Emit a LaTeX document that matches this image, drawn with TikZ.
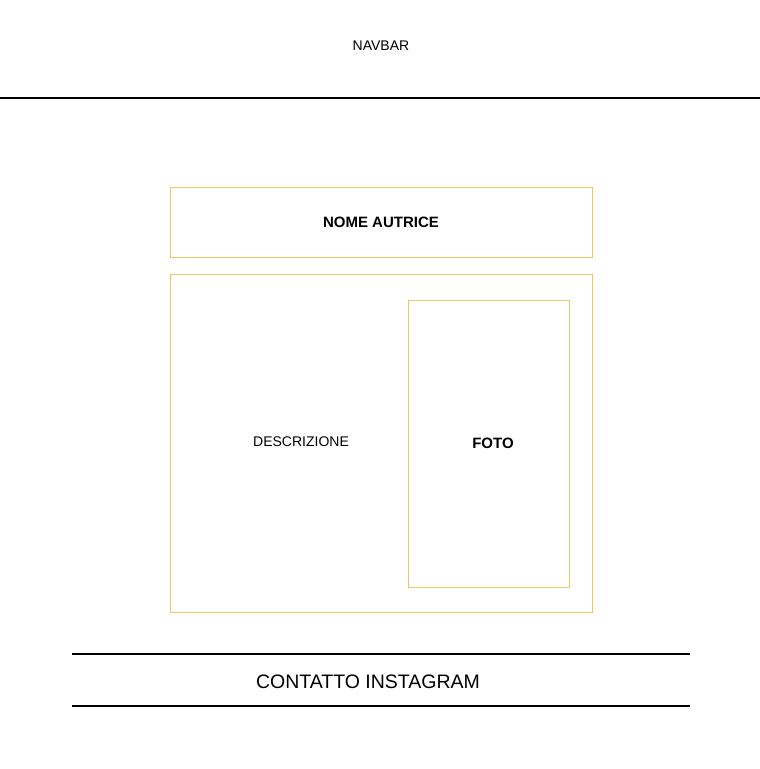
\documentclass[tikz,border=0pt]{standalone}
\usepackage{fontspec}
\setmainfont{Liberation Sans}
\usetikzlibrary{positioning}

\definecolor{wireGold}{RGB}{232,200,100}

\begin{document}
\begin{tikzpicture}[
  x=1pt, y=-1pt,
  box/.style={
    draw=wireGold,
    line width=0.9pt,
    inner sep=0pt,
    font=\fontsize{15}{18}\selectfont\bfseries
  },
  label/.style={
    inner sep=0pt,
    font=\fontsize{14}{17}\selectfont
  },
  rule/.style={line width=2pt}
]

\useasboundingbox (0,0) rectangle (760,769);

% Navbar
\node[label] (navbar) at (381,46) {NAVBAR};
\draw[rule] (0,98) -- (760,98);

% Nome autrice
\node[box, minimum width=422pt, minimum height=70pt] (nome) at (381,222) {NOME AUTRICE};

% Descrizione + foto
\node[box, minimum width=422pt, minimum height=338pt] (corpo) at (381,443) {};
\node[box, minimum width=161pt, minimum height=287pt] (foto) at (488.5,443.5) {};
\node[box, draw=none] (fotolabel) at (493,443) {FOTO};
\node[label] (descrizione) at (301,442) {DESCRIZIONE};

% Contatto
\draw[rule] (72,654) -- (690,654);
\node[label, font=\fontsize{19.5}{23}\selectfont] (contatto) at (368,682) {CONTATTO INSTAGRAM};
\draw[rule] (72,706) -- (690,706);

\end{tikzpicture}
\end{document}
